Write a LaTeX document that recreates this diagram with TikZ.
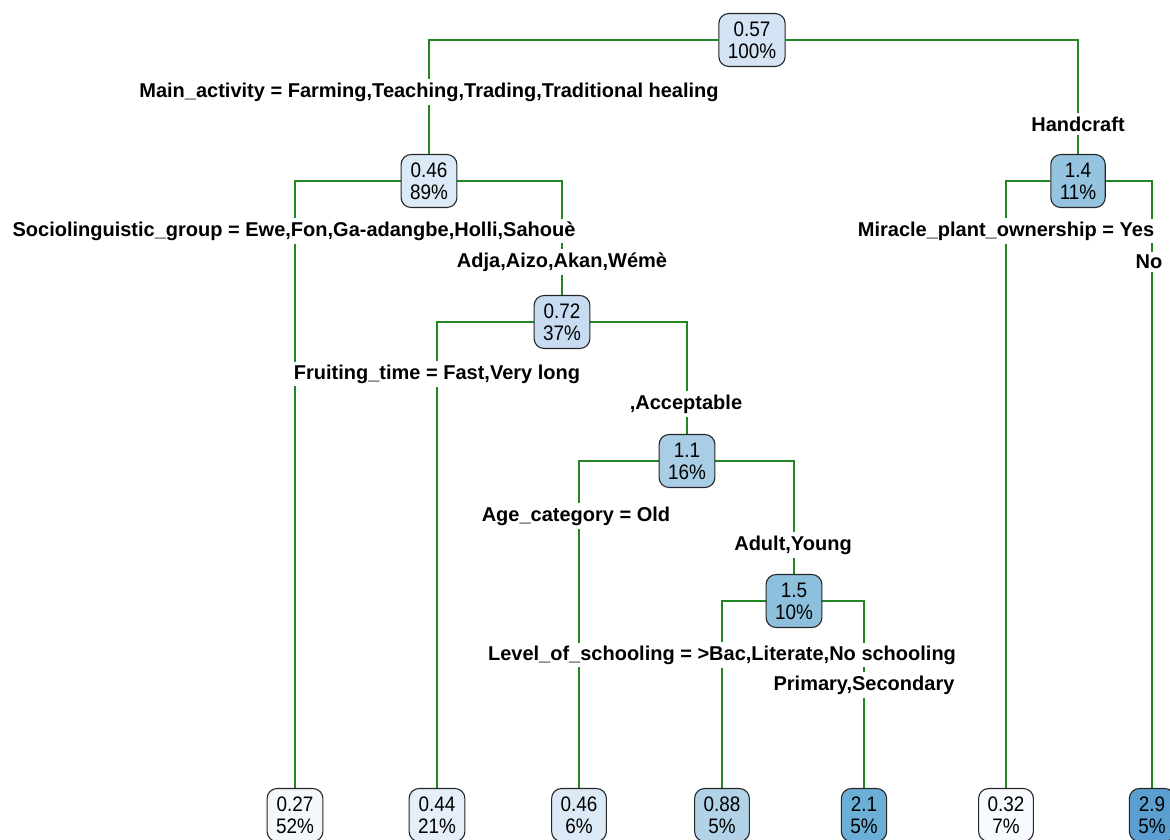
\documentclass[tikz,border=0pt]{standalone}
\usepackage{fontspec}
\setmainfont{Liberation Sans}
\newfontfamily\nodefont[FakeStretch=0.9]{Liberation Sans}
\usetikzlibrary{backgrounds}
\definecolor{brgreen}{RGB}{34,135,34}
\definecolor{c027}{RGB}{243,248,253}
\definecolor{c032}{RGB}{247,251,255}
\definecolor{c044}{RGB}{229,238,249}
\definecolor{c046}{RGB}{220,233,246}
\definecolor{c057}{RGB}{212,228,244}
\definecolor{c072}{RGB}{199,220,240}
\definecolor{c088}{RGB}{178,210,232}
\definecolor{c11}{RGB}{168,205,228}
\definecolor{c14}{RGB}{148,196,223}
\definecolor{c15}{RGB}{141,192,221}
\definecolor{c21}{RGB}{107,174,214}
\definecolor{c29}{RGB}{90,159,207}
\tikzset{
  tnode/.style={draw=black!85, line width=1.1pt, rounded corners=10pt, align=center,
    font=\nodefont\fontsize{21}{22}\selectfont, inner xsep=9pt, inner ysep=2pt, minimum height=53pt},
  lab/.style={font=\bfseries\fontsize{20}{22}\selectfont, inner sep=3pt, fill=white},
  br/.style={draw=brgreen, line width=1.2pt},
  brm/.style={draw=brgreen, line width=1.7pt},
  brt/.style={draw=brgreen, line width=2.5pt}
}
\begin{document}
\begin{tikzpicture}[x=1pt,y=-1pt]
\useasboundingbox (0,0) rectangle (1170,839);
% internal nodes
\node[tnode, fill=c057] (root) at (752,40) {0.57\\100\%};
\node[tnode, fill=c046] (n046) at (429,181) {0.46\\89\%};
\node[tnode, fill=c14] (n14) at (1078,181) {1.4\\11\%};
\node[tnode, fill=c072] (n072) at (562,322) {0.72\\37\%};
\node[tnode, fill=c11] (n11) at (687,461) {1.1\\16\%};
\node[tnode, fill=c15] (n15) at (794,601) {1.5\\10\%};
% leaves
\node[tnode, fill=c027] (l027) at (295,815) {0.27\\52\%};
\node[tnode, fill=c044] (l044) at (437,815) {0.44\\21\%};
\node[tnode, fill=c046] (l046) at (579,815) {0.46\\6\%};
\node[tnode, fill=c088] (l088) at (722,815) {0.88\\5\%};
\node[tnode, fill=c21] (l21) at (864,815) {2.1\\5\%};
\node[tnode, fill=c032] (l032) at (1006,815) {0.32\\7\%};
\node[tnode, fill=c29] (l29) at (1152,815) {2.9\\5\%};
% split labels
\node[lab] (L1) at (429,92) {Main\_activity = Farming,Teaching,Trading,Traditional healing};
\node[lab] (L2) at (1078,124) {Handcraft};
\node[lab] (L3) at (294,231) {Sociolinguistic\_group = Ewe,Fon,Ga-adangbe,Holli,Sahouè};
\node[lab] (L4) at (562,262) {Adja,Aizo,Akan,Wémè};
\node[lab] (L5) at (437,374) {Fruiting\_time = Fast,Very long};
\node[lab] (L6) at (686,404) {,Acceptable};
\node[lab] (L7) at (576,516) {Age\_category = Old};
\node[lab] (L8) at (793,545) {Adult,Young};
\node[lab] (L9) at (722,655) {Level\_of\_schooling = >Bac,Literate,No schooling};
\node[lab] (L10) at (864,685) {Primary,Secondary};
\node[lab] (L11) at (1006,231) {Miracle\_plant\_ownership = Yes};
\node[lab] (L12) at (1149,262) {No};
% branches
\begin{pgfonlayer}{background}
\draw[br] (root.west) -| (L1.north);
\draw[br] (L1.south) -- (n046.north);
\draw[br] (root.east) -| (L2.north);
\draw[br] (L2.south) -- (n14.north);
\draw[br] (n046.west) -| (L3.north -| l027.north);
\draw[brm] (L3.south -| l027.north) -- (l027.north);
\draw[br] (n046.east) -| (L4.north);
\draw[br] (L4.south) -- (n072.north);
\draw[br] (n072.west) -| (L5.north);
\draw[br] (L5.south) -- (l044.north);
\draw[br] (n072.east) -| (L6.north -| n11.north);
\draw[br] (L6.south -| n11.north) -- (n11.north);
\draw[br] (n11.west) -| (L7.north -| l046.north);
\draw[brm] (L7.south -| l046.north) -- (l046.north);
\draw[br] (n11.east) -| (L8.north -| n15.north);
\draw[br] (L8.south -| n15.north) -- (n15.north);
\draw[brt] (n15.west) -| (L9.north);
\draw[brt] (L9.south) -- (l088.north);
\draw[brt] (n15.east) -| (L10.north);
\draw[brt] (L10.south) -- (l21.north);
\draw[brm] (n14.west) -| (L11.north);
\draw[br] (L11.south) -- (l032.north);
\draw[brm] (n14.east) -| (L12.north -| l29.north);
\draw[brt] (L12.south -| l29.north) -- (l29.north);
\end{pgfonlayer}
\end{tikzpicture}
\end{document}
